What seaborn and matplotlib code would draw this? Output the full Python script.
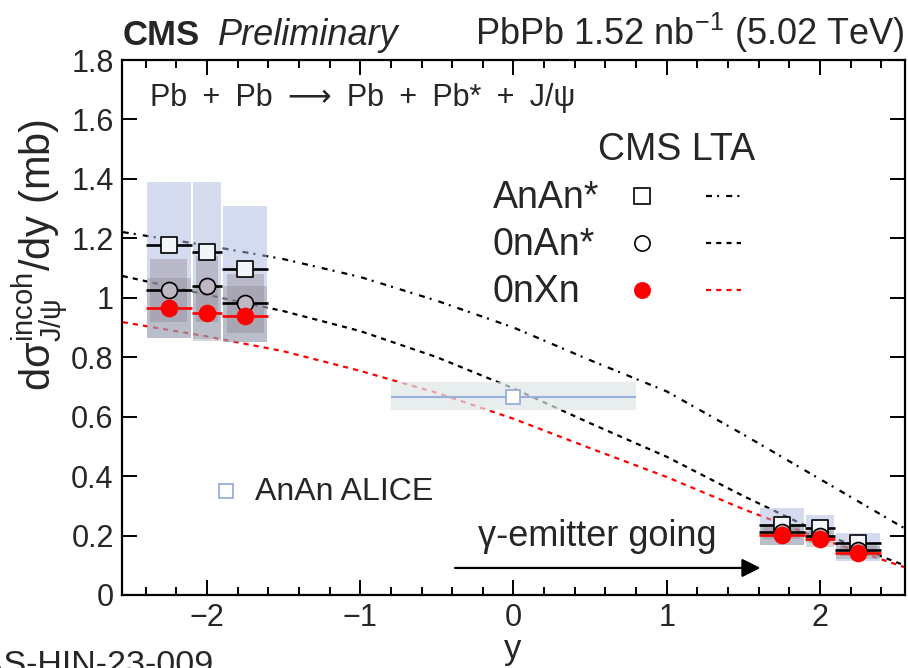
import numpy as np
import pandas as pd
import matplotlib
matplotlib.use("Agg")
import matplotlib.pyplot as plt
import seaborn as sns
from matplotlib.ticker import MultipleLocator

# ---------------- data ----------------
bin_lo = [-2.4, -2.1, -1.9, 1.6, 1.9, 2.1]
bin_hi = [-2.1, -1.9, -1.6, 1.9, 2.1, 2.4]
rap = [-2.25, -2.0, -1.75, 1.75, 2.0, 2.25]

anan = [1.179, 1.155, 1.098, 0.234, 0.225, 0.174]
anan_stat = [0.012, 0.012, 0.025, 0.008, 0.008, 0.008]
anan_sys_lo = [0.866, 0.862, 0.850, 0.168, 0.177, 0.115]
anan_sys_hi = [1.390, 1.390, 1.310, 0.292, 0.270, 0.207]

onan = [1.027, 1.041, 0.984, 0.212, 0.198, 0.151]
onan_stat = [0.010, 0.010, 0.020, 0.006, 0.006, 0.006]
onan_sys_lo = [0.920, 0.917, 0.883, 0.190, 0.175, 0.130]
onan_sys_hi = [1.132, 1.142, 1.081, 0.240, 0.220, 0.170]

onxn = [0.967, 0.950, 0.940, 0.202, 0.188, 0.142]
onxn_stat = [0.010, 0.010, 0.015, 0.006, 0.006, 0.006]
onxn_sys_lo = [0.866, 0.853, 0.850, 0.168, 0.160, 0.120]
onxn_sys_hi = [1.068, 1.040, 1.038, 0.236, 0.215, 0.165]

alice_rap = [0.0]
alice_val = [0.665]
alice_xerr = [0.8]
alice_sys_lo = [0.621]
alice_sys_hi = [0.715]

th_x = [-2.55, -2.0, -1.5, -1.0, -0.5, 0.0, 0.5, 1.0, 1.5, 2.0, 2.55]
th_anan = [1.221, 1.176, 1.13, 1.07, 0.99, 0.90, 0.79, 0.685, 0.54, 0.39, 0.225]
th_onan = [1.073, 1.01, 0.955, 0.888, 0.80, 0.695, 0.578, 0.465, 0.333, 0.21, 0.10]
th_onxn = [0.918, 0.87, 0.82, 0.754, 0.68, 0.593, 0.494, 0.397, 0.289, 0.19, 0.094]

# ---------------- style ----------------
sns.set_style("ticks")
plt.rcParams["font.family"] = ["Liberation Sans", "DejaVu Sans"]
plt.rcParams["mathtext.fontset"] = "custom"
plt.rcParams["mathtext.rm"] = "Liberation Sans"
plt.rcParams["mathtext.it"] = "Liberation Sans:italic"
plt.rcParams["mathtext.bf"] = "Liberation Sans:bold"

W, H = 908, 668
fig = plt.figure(figsize=(W / 100, H / 100), dpi=100)
ax = fig.add_axes([122 / W, (H - 595) / H, (905 - 122) / W, (595 - 60) / H])

def P(x, y):
    return (x / W, 1 - y / H)

DASHDOT = (0, (2.7, 2.3, 0.9, 3.2))
DASHED = (0, (2.3, 2.3))

# theory curves (drawn first, under boxes)
th = pd.DataFrame({"y": th_x * 3,
                   "val": th_anan + th_onan + th_onxn,
                   "model": ["AnAn*"] * len(th_x) + ["0nAn*"] * len(th_x) + ["0nXn"] * len(th_x)})
sns.lineplot(data=th[th.model == "AnAn*"], x="y", y="val", ax=ax, color="black",
             lw=1.6, linestyle=DASHDOT, zorder=1)
sns.lineplot(data=th[th.model == "0nAn*"], x="y", y="val", ax=ax, color="black",
             lw=1.6, linestyle=DASHED, zorder=1)
sns.lineplot(data=th[th.model == "0nXn"], x="y", y="val", ax=ax, color="#ff0000",
             lw=1.6, linestyle=DASHED, zorder=1)

lo = np.array(bin_lo); hi = np.array(bin_hi)
width = hi - lo
inset = 0.006
# systematic boxes
ax.bar(lo + inset, np.array(anan_sys_hi) - np.array(anan_sys_lo), width=width - 2 * inset,
       bottom=anan_sys_lo, align="edge", color="#abb9df", alpha=0.5, lw=0, zorder=2)
ax.bar(lo + inset, np.array(onxn_sys_hi) - np.array(onxn_sys_lo), width=width - 2 * inset,
       bottom=onxn_sys_lo, align="edge", color="#8a8a8a", alpha=0.35, lw=0, zorder=2)
ax.bar(lo + 0.03, np.array(onan_sys_hi) - np.array(onan_sys_lo), width=width - 0.06,
       bottom=onan_sys_lo, align="edge", color="#8a7a88", alpha=0.35, lw=0, zorder=2)

# ALICE box and point
ax.bar(np.array(alice_rap) - np.array(alice_xerr), np.array(alice_sys_hi) - np.array(alice_sys_lo),
       width=2 * np.array(alice_xerr), bottom=alice_sys_lo, align="edge",
       color="#dde8e6", alpha=0.7, lw=0, zorder=2)
ax.errorbar(alice_rap, alice_val, xerr=alice_xerr, yerr=0.012, fmt="none",
            ecolor="#98aedc", elinewidth=1.5, capsize=0, zorder=3)
sns.scatterplot(x=alice_rap, y=alice_val, ax=ax, marker="s", s=10.5 ** 2,
                facecolor="white", edgecolor="#98aedc", linewidth=1.3, zorder=4)

# CMS points
xerr = [np.array(rap) - lo, hi - np.array(rap)]
for vals, stat, col, mk, fc, ec, z in [
        (anan, anan_stat, "black", "s", "#f4f5fa", "black", 5),
        (onan, onan_stat, "black", "o", "#bdb8c3", "black", 6),
        (onxn, onxn_stat, "#ff0000", "o", "#ff0000", "#ff0000", 7)]:
    ax.errorbar(rap, vals, xerr=xerr, yerr=stat, fmt="none", ecolor=col,
                elinewidth=1.9, capsize=0, zorder=z)
    sns.scatterplot(x=rap, y=vals, ax=ax, marker=mk, s=11.5 ** 2, facecolor=fc,
                    edgecolor=ec, linewidth=1.2, zorder=z + 0.5)

# axes
ax.set_xlim(-2.555, 2.555)
ax.set_ylim(0, 1.8)
ax.xaxis.set_major_locator(MultipleLocator(1))
ax.xaxis.set_minor_locator(MultipleLocator(0.2))
ax.set_yticks([0, 0.2, 0.4, 0.6, 0.8, 1.0, 1.2, 1.4, 1.6, 1.8])
ax.set_yticklabels(["0", "0.2", "0.4", "0.6", "0.8", "1", "1.2", "1.4", "1.6", "1.8"])
ax.set_xticks([-2, -1, 0, 1, 2])
ax.set_xticklabels(["\u22122", "\u22121", "0", "1", "2"])
ax.tick_params(which="both", direction="in", top=True, right=True, width=1.4,
               labelsize=22, color="black")
ax.tick_params(which="major", length=11, pad=6)
ax.tick_params(which="minor", length=5.5)
for s in ax.spines.values():
    s.set_linewidth(1.6)
    s.set_color("black")
ax.set_xlabel("")
ax.set_ylabel("")

# axis titles
fig.text(*P(513, 650), "y", fontsize=25, ha="center", va="center")
fig.text(*P(40, 255), r"d$\mathrm{\sigma^{incoh}_{J/\psi}}$/dy (mb)", fontsize=30,
         rotation=90, ha="center", va="center")

# header texts
fig.text(*P(123, 45), "CMS", fontsize=25, fontweight="bold", ha="left", va="baseline")
fig.text(*P(218, 45), "Preliminary", fontsize=26, fontstyle="italic", ha="left", va="baseline")
fig.text(*P(905, 45), r"PbPb 1.52 nb$^{\mathrm{-1}}$ (5.02 TeV)", fontsize=26,
         ha="right", va="baseline")
fig.text(*P(150, 106), "Pb\u2002+\u2002Pb\u2002\u27f6\u2002Pb\u2002+\u2002Pb*\u2002+\u2002J/\u03c8",
         fontsize=22, ha="left", va="baseline")

# legend
fig.text(*P(677, 160), "CMS LTA", fontsize=27, ha="center", va="baseline")
rows = [("AnAn*", 196, "s", "white", "black", DASHDOT),
        ("0nAn*", 243, "o", "white", "black", DASHED),
        ("0nXn", 290, "o", "#ff0000", "#ff0000", DASHED)]
for lab, yy, mk, fc, lc, ls in rows:
    fig.text(*P(493, yy + 12), lab, fontsize=27, ha="left", va="baseline")
    ec = "black" if fc != "#ff0000" else "#ff0000"
    fig.add_artist(plt.Line2D([642 / W], [1 - yy / H], marker=mk, markersize=11,
                              markerfacecolor=fc, markeredgecolor=ec, markeredgewidth=1.2,
                              linestyle="none"))
    fig.add_artist(plt.Line2D([706 / W, 741 / W], [1 - yy / H, 1 - yy / H], color=lc,
                              lw=1.6, linestyle=ls))

fig.add_artist(plt.Line2D([226 / W], [1 - 491 / H], marker="s", markersize=10.5,
                          markerfacecolor="white", markeredgecolor="#98aedc",
                          markeredgewidth=1.3, linestyle="none"))
fig.text(*P(255, 500), "AnAn ALICE", fontsize=23, ha="left", va="baseline")

# arrow annotation
ax.annotate("", xy=(1.63, 0.091), xytext=(-0.40, 0.091),
            arrowprops=dict(arrowstyle="-|>", color="black", lw=1.6,
                            mutation_scale=28))
fig.text(*P(597, 546), "\u03b3-emitter going", fontsize=26, ha="center", va="baseline")

# cut-off analysis reference (cut at the left edge, as in the reference)
fig.text(*P(213, 674), "CMS-PAS-HIN-23-009", fontsize=24.5, ha="right", va="baseline")

fig.savefig("out.png", dpi=100)
